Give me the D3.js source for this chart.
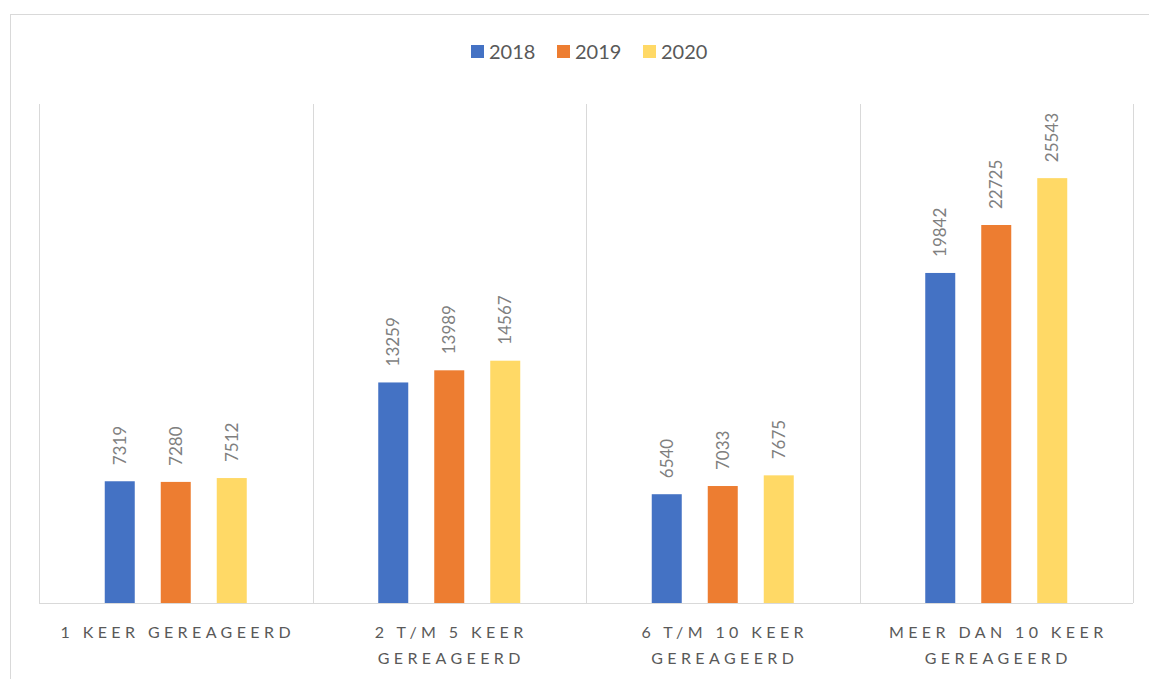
<!DOCTYPE html>
<html>
<head>
<meta charset="utf-8">
<script src="https://cdn.jsdelivr.net/npm/d3@7"></script>
<style>
  body { margin: 0; background: #fff; }
  svg { display: block; font-family: Lato, "Open Sans", sans-serif; }
</style>
</head>
<body>
<svg width="1149" height="679"></svg>
<script>
var categories = [
    ["1 KEER GEREAGEERD"],
    ["2 T/M 5 KEER", "GEREAGEERD"],
    ["6 T/M 10 KEER", "GEREAGEERD"],
    ["MEER DAN 10 KEER", "GEREAGEERD"]
];
var years = ["2018", "2019", "2020"];
var v2018 = [7319, 13259, 6540, 19842];
var v2019 = [7280, 13989, 7033, 22725];
var v2020 = [7512, 14567, 7675, 25543];
var colors = ["#4472C4", "#ED7D31", "#FFD966"];

var svg = d3.select("svg"),
    width = +svg.attr("width"),
    height = +svg.attr("height");

var margin = {left: 39, right: 16, top: 104, bottom: 76};

// chart border
svg.append("rect")
    .attr("x", 10.5).attr("y", 14.5)
    .attr("width", width + 20).attr("height", height + 20)
    .attr("fill", "none").attr("stroke", "#d9d9d9").attr("stroke-width", 1);

var series = [v2018, v2019, v2020];
var rows = categories.map(function (c, i) {
    return {cat: i, vals: series.map(function (s) { return s[i]; })};
});

var x = d3.scaleBand()
    .domain(d3.range(categories.length))
    .range([margin.left, width - margin.right])
    .padding(0);

var y = d3.scaleLinear()
    .domain([0, 30000])
    .range([height - margin.bottom, margin.top]);

// inner positions for bars: width 30, step 56
var bw = 30, step = 56;
var x1 = function (j) { return x.bandwidth() / 2 + (j - 1) * step - bw / 2; };

// category separators
var edges = d3.range(categories.length + 1).map(function (i) {
    return i < categories.length ? x(i) : x(i - 1) + x.bandwidth();
});
svg.append("g").selectAll("line")
    .data(edges)
    .enter().append("line")
    .attr("x1", function (d) { return Math.round(d) + 0.5; })
    .attr("x2", function (d) { return Math.round(d) + 0.5; })
    .attr("y1", margin.top)
    .attr("y2", y(0))
    .attr("stroke", "#d9d9d9");

// bars
var groups = svg.append("g").selectAll("g")
    .data(rows)
    .enter().append("g")
    .attr("transform", function (d) { return "translate(" + x(d.cat) + ",0)"; });

groups.selectAll("rect")
    .data(function (d) { return d.vals; })
    .enter().append("rect")
    .attr("x", function (d, j) { return x1(j); })
    .attr("y", function (d) { return y(d); })
    .attr("width", bw)
    .attr("height", function (d) { return y(0) - y(d); })
    .attr("fill", function (d, j) { return colors[j]; });

groups.selectAll("text")
    .data(function (d) { return d.vals; })
    .enter().append("text")
    .attr("transform", function (d, j) {
        return "translate(" + (x1(j) + bw / 2 + 6) + "," + (y(d) - 16) + ") rotate(-90)";
    })
    .attr("text-anchor", "start")
    .style("font-size", "17px")
    .style("fill", "#7f7f7f")
    .text(function (d) { return d; });

// baseline
svg.append("line")
    .attr("x1", margin.left).attr("x2", width - margin.right)
    .attr("y1", y(0) + 0.5).attr("y2", y(0) + 0.5)
    .attr("stroke", "#d9d9d9");

// category labels
var labels = svg.append("g").selectAll("text")
    .data(categories)
    .enter().append("text")
    .attr("x", function (d, i) { return x(i) + x.bandwidth() / 2 + 2; })
    .attr("y", y(0) + 35)
    .attr("text-anchor", "middle")
    .style("font-size", "16px")
    .style("letter-spacing", "4.4px")
    .style("fill", "#595959");
labels.selectAll("tspan")
    .data(function (d) { return d; })
    .enter().append("tspan")
    .attr("x", function () { return d3.select(this.parentNode).attr("x"); })
    .attr("dy", function (d, i) { return i === 0 ? 0 : 26; })
    .text(function (d) { return d; });

// legend
var legend = svg.append("g").selectAll("g")
    .data(years)
    .enter().append("g")
    .attr("transform", function (d, i) { return "translate(" + (471 + i * 86) + ",45)"; });
legend.append("rect")
    .attr("width", 13).attr("height", 13)
    .attr("fill", function (d, i) { return colors[i]; });
legend.append("text")
    .attr("x", 18).attr("y", 14)
    .style("font-size", "20px")
    .style("fill", "#595959")
    .text(function (d) { return d; });
</script>
</body>
</html>
